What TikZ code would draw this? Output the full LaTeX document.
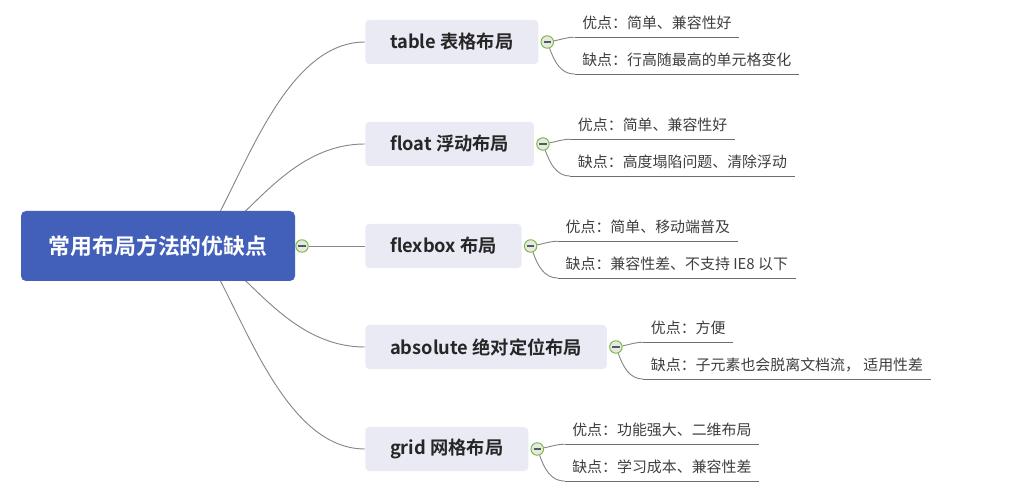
\documentclass[tikz,border=0pt]{standalone}
\usepackage{fontspec}
\setmainfont{Noto Sans CJK SC}[BoldFont={Noto Sans CJK SC Bold}]
\usetikzlibrary{positioning,backgrounds}
\definecolor{rootblue}{RGB}{66,96,186}
\definecolor{branchgray}{RGB}{233,234,243}
\definecolor{wiregray}{RGB}{135,135,135}
\definecolor{rulegray}{RGB}{110,110,110}
\definecolor{knobgreen}{RGB}{118,182,62}
\definecolor{knobfill}{RGB}{228,234,226}
\definecolor{leaftext}{RGB}{62,62,62}

\tikzset{
  rootbox/.style={rectangle,rounded corners=3.75pt,fill=rootblue,text=white,
    font=\fontsize{16.4pt}{18pt}\selectfont\bfseries,
    minimum width=205.5pt,minimum height=52.5pt,inner sep=0pt},
  branchbox/.style={rectangle,rounded corners=3pt,fill=branchgray,text=black!85,
    font=\fontsize{13.7pt}{16pt}\selectfont\bfseries,
    minimum height=33pt,inner xsep=18.6pt,inner ysep=0pt},
  knob/.style={circle,draw=knobgreen,fill=knobfill,line width=0.7pt,
    minimum size=9.4pt,inner sep=0pt,
    path picture={\draw[line width=0.8pt,black!65]
      ([xshift=-2.7pt]path picture bounding box.center) --
      ([xshift=2.7pt]path picture bounding box.center);}},
  leaf/.style={rectangle,text=leaftext,font=\fontsize{11.2pt}{13pt}\selectfont,
    text height=0.8em,text depth=0.05em,
    minimum height=19.5pt,inner xsep=5.5pt,inner ysep=0pt},
  wire/.style={draw=wiregray,line width=0.7pt},
  rule/.style={draw=rulegray,line width=0.8pt}
}

\begin{document}
\begin{tikzpicture}[x=0.75pt,y=-0.75pt]
\useasboundingbox (0,0) rectangle (1014,502);

% centre topic
\coordinate (hub) at (200,246);
\node[rootbox] (root) at (158,246) {常用布局方法的优缺点};
\node[knob,right=0pt of root] (c0) {};

% main branches
\node[branchbox,anchor=west] (b1) at (365,42) {table 表格布局};
\node[branchbox,anchor=west] (b2) at (365,144) {float 浮动布局};
\node[branchbox,anchor=west] (b3) at (365,246) {flexbox 布局};
\node[branchbox,anchor=west] (b4) at (365,347) {absolute 绝对定位布局};
\node[branchbox,anchor=west] (b5) at (365,449) {grid 网格布局};

\node[knob,right=1.5pt of b1] (c1) {};
\node[knob,right=1.5pt of b2] (c2) {};
\node[knob,right=1.5pt of b3] (c3) {};
\node[knob,right=1.5pt of b4] (c4) {};
\node[knob,right=1.5pt of b5] (c5) {};

\begin{scope}[on background layer]
\draw[wire] (hub) .. controls +(40,-56) and +(-85,0) .. (b1.west);
\draw[wire] (hub) .. controls +(45,-18) and +(-80,0) .. (b2.west);
\draw[wire] (hub) .. controls +(45,18) and +(-80,0) .. (b4.west);
\draw[wire] (hub) .. controls +(40,56) and +(-85,0) .. (b5.west);
\end{scope}
\draw[wire] (c0) -- (b3);

% pros and cons
\node[leaf,above right=0pt and 17pt of c1] (p1) {优点：简单、兼容性好};
\node[leaf,below right=0.6pt and 17pt of c1] (n1) {缺点：行高随最高的单元格变化};
\node[leaf,above right=0pt and 17pt of c2] (p2) {优点：简单、兼容性好};
\node[leaf,below right=0.6pt and 17pt of c2] (n2) {缺点：高度塌陷问题、清除浮动};
\node[leaf,above right=0pt and 17pt of c3] (p3) {优点：简单、移动端普及};
\node[leaf,below right=0.6pt and 17pt of c3] (n3) {缺点：兼容性差、不支持 IE8 以下};
\node[leaf,above right=0pt and 17pt of c4] (p4) {优点：方便};
\node[leaf,below right=0.6pt and 17pt of c4] (n4) {缺点：子元素也会脱离文档流， 适用性差};
\node[leaf,above right=0pt and 17pt of c5] (p5) {优点：功能强大、二维布局};
\node[leaf,below right=0.6pt and 17pt of c5] (n5) {缺点：学习成本、兼容性差};

\foreach \i in {1,...,5} {
  \draw[wire] (c\i) to[out=10,in=180] (p\i.south west);
  \draw[wire] (c\i) to[out=-70,in=180] (n\i.south west);
  \draw[rule] (p\i.south west) -- (p\i.south east);
  \draw[rule] (n\i.south west) -- (n\i.south east);
}
\end{tikzpicture}
\end{document}
